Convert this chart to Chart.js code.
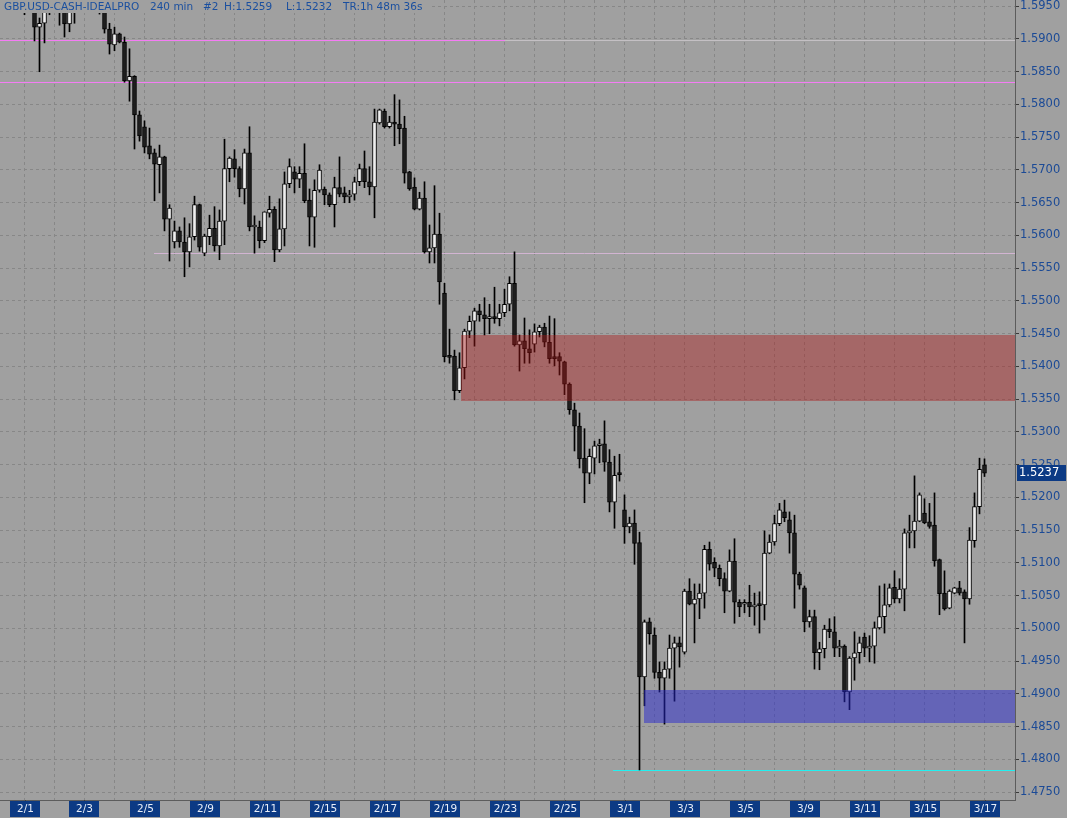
<!DOCTYPE html>
<html>
<head>
<meta charset="utf-8">
<style>
  html, body { margin: 0; padding: 0; background: #a0a0a0; }
  #wrap { width: 1067px; height: 818px; }
</style>
<script src="https://cdn.jsdelivr.net/npm/chart.js@4.4.1/dist/chart.umd.min.js"></script>
</head>
<body>
<div id="wrap"><canvas id="chart" width="1067" height="818"></canvas></div>
<script>
/* =========================
   DATA (GBP.USD 240 min bars)
========================= */
const opens = [
  1.5985, 1.5992, 1.5980, 1.5972, 1.5985, 1.5970, 1.5985, 1.5918, 1.5924, 1.5970,
  1.5975, 1.5982, 1.5968, 1.5923, 1.5962, 1.5980, 1.5990, 1.5978, 1.5985, 1.5972,
  1.5975, 1.5915, 1.5891, 1.5908, 1.5895, 1.5836, 1.5843, 1.5784, 1.5766, 1.5737,
  1.5726, 1.5708, 1.5720, 1.5625, 1.5590, 1.5607, 1.5590, 1.5575, 1.5598, 1.5647,
  1.5573, 1.5598, 1.5611, 1.5584, 1.5622, 1.5702, 1.5717, 1.5702, 1.5671, 1.5726,
  1.5613, 1.5613, 1.5592, 1.5634, 1.5640, 1.5578, 1.5610, 1.5679, 1.5697, 1.5686,
  1.5695, 1.5654, 1.5628, 1.5669, 1.5671, 1.5662, 1.5647, 1.5673, 1.5665, 1.5659,
  1.5663, 1.5682, 1.5702, 1.5682, 1.5674, 1.5772, 1.5790, 1.5766, 1.5773, 1.5770,
  1.5764, 1.5697, 1.5674, 1.5640, 1.5657, 1.5575, 1.5581, 1.5602, 1.5512, 1.5415,
  1.5416, 1.5363, 1.5398, 1.5454, 1.5469, 1.5485, 1.5479, 1.5473, 1.5476, 1.5473,
  1.5482, 1.5495, 1.5527, 1.5433, 1.5439, 1.5427, 1.5434, 1.5453, 1.5460, 1.5437,
  1.5415, 1.5415, 1.5407, 1.5373, 1.5334, 1.5309, 1.5260, 1.5237, 1.5260, 1.5279,
  1.5282, 1.5254, 1.5193, 1.5236, 1.5181, 1.5155, 1.5161, 1.5131, 1.4926, 1.5010,
  1.4990, 1.4933, 1.4924, 1.4938, 1.4970, 1.4978, 1.4964, 1.5057, 1.5037, 1.5045,
  1.5054, 1.5121, 1.5101, 1.5092, 1.5076, 1.5057, 1.5103, 1.5040, 1.5037, 1.5040,
  1.5033, 1.5036, 1.5036, 1.5115, 1.5132, 1.5160, 1.5178, 1.5166, 1.5146, 1.5083,
  1.5062, 1.5010, 1.5018, 1.4963, 1.4969, 1.4999, 1.4995, 1.4970, 1.4973, 1.4903,
  1.4955, 1.4963, 1.4987, 1.4970, 1.4973, 1.5001, 1.5018, 1.5036, 1.5063, 1.5045,
  1.5060, 1.5146, 1.5149, 1.5164, 1.5176, 1.5163, 1.5158, 1.5105, 1.5054, 1.5031,
  1.5054, 1.5062, 1.5056, 1.5045, 1.5134, 1.5186, 1.5250
];
const highs = [
  1.6005, 1.6010, 1.5995, 1.5990, 1.5998, 1.5985, 1.5998, 1.5932, 1.5985, 1.5990,
  1.5998, 1.5995, 1.5980, 1.5975, 1.5990, 1.6002, 1.6008, 1.5995, 1.5998, 1.5990,
  1.5988, 1.5924, 1.5918, 1.5909, 1.5903, 1.5885, 1.5844, 1.5790, 1.5775, 1.5764,
  1.5732, 1.5738, 1.5721, 1.5647, 1.5622, 1.5613, 1.5627, 1.5618, 1.5660, 1.5648,
  1.5602, 1.5631, 1.5644, 1.5639, 1.5747, 1.5720, 1.5731, 1.5705, 1.5732, 1.5766,
  1.5630, 1.5622, 1.5636, 1.5660, 1.5644, 1.5656, 1.5697, 1.5717, 1.5705, 1.5705,
  1.5740, 1.5671, 1.5685, 1.5708, 1.5674, 1.5665, 1.5689, 1.5720, 1.5674, 1.5669,
  1.5689, 1.5709, 1.5729, 1.5705, 1.5793, 1.5793, 1.5793, 1.5782, 1.5815, 1.5807,
  1.5782, 1.5698, 1.5688, 1.5666, 1.5682, 1.5616, 1.5676, 1.5634, 1.5527, 1.5457,
  1.5425, 1.5421, 1.5457, 1.5477, 1.5489, 1.5495, 1.5505, 1.5495, 1.5521, 1.5495,
  1.5518, 1.5537, 1.5575, 1.5448, 1.5474, 1.5456, 1.5465, 1.5463, 1.5466, 1.5477,
  1.5473, 1.5421, 1.5408, 1.5375, 1.5344, 1.5329, 1.5305, 1.5274, 1.5286, 1.5289,
  1.5317, 1.5273, 1.5263, 1.5266, 1.5204, 1.5170, 1.5181, 1.5147, 1.5013, 1.5016,
  1.5001, 1.4949, 1.4949, 1.4990, 1.4987, 1.4987, 1.5060, 1.5076, 1.5068, 1.5068,
  1.5127, 1.5132, 1.5108, 1.5097, 1.5085, 1.5120, 1.5137, 1.5044, 1.5044, 1.5066,
  1.5054, 1.5056, 1.5149, 1.5143, 1.5173, 1.5191, 1.5196, 1.5178, 1.5173, 1.5086,
  1.5065, 1.5028, 1.5028, 1.4979, 1.5005, 1.5015, 1.5018, 1.4982, 1.4975, 1.4957,
  1.4995, 1.4987, 1.4993, 1.4989, 1.5010, 1.5065, 1.5068, 1.5068, 1.5088, 1.5076,
  1.5152, 1.5173, 1.5233, 1.5207, 1.5198, 1.5191, 1.5207, 1.5106, 1.5088, 1.5059,
  1.5063, 1.5072, 1.5059, 1.5154, 1.5207, 1.5260, 1.5259
];
const lows = [
  1.5970, 1.5978, 1.5965, 1.5960, 1.5937, 1.5958, 1.5897, 1.5850, 1.5894, 1.5937,
  1.5962, 1.5921, 1.5903, 1.5911, 1.5924, 1.5965, 1.5972, 1.5962, 1.5966, 1.5938,
  1.5909, 1.5877, 1.5882, 1.5894, 1.5834, 1.5805, 1.5732, 1.5744, 1.5726, 1.5717,
  1.5653, 1.5665, 1.5607, 1.5561, 1.5581, 1.5582, 1.5537, 1.5552, 1.5593, 1.5576,
  1.5569, 1.5586, 1.5576, 1.5563, 1.5586, 1.5682, 1.5689, 1.5659, 1.5648, 1.5607,
  1.5573, 1.5581, 1.5589, 1.5628, 1.5560, 1.5575, 1.5584, 1.5673, 1.5665, 1.5673,
  1.5650, 1.5584, 1.5582, 1.5666, 1.5647, 1.5644, 1.5613, 1.5659, 1.5650, 1.5650,
  1.5654, 1.5676, 1.5673, 1.5662, 1.5627, 1.5770, 1.5764, 1.5764, 1.5737, 1.5740,
  1.5680, 1.5669, 1.5639, 1.5639, 1.5573, 1.5558, 1.5558, 1.5495, 1.5407, 1.5405,
  1.5349, 1.5360, 1.5381, 1.5444, 1.5431, 1.5469, 1.5448, 1.5450, 1.5466, 1.5462,
  1.5476, 1.5485, 1.5431, 1.5393, 1.5405, 1.5405, 1.5422, 1.5445, 1.5430, 1.5405,
  1.5401, 1.5387, 1.5357, 1.5327, 1.5271, 1.5245, 1.5192, 1.5221, 1.5236, 1.5253,
  1.5240, 1.5178, 1.5153, 1.5225, 1.5130, 1.5146, 1.5098, 1.4784, 1.4882, 1.4976,
  1.4924, 1.4903, 1.4854, 1.4924, 1.4889, 1.4941, 1.4961, 1.5036, 1.4978, 1.5015,
  1.5031, 1.5089, 1.5079, 1.5065, 1.5024, 1.5056, 1.5008, 1.5018, 1.5024, 1.5018,
  1.5005, 1.4993, 1.5013, 1.5114, 1.5127, 1.5157, 1.5163, 1.5115, 1.5031, 1.5060,
  1.4995, 1.5002, 1.4938, 1.4937, 1.4955, 1.4986, 1.4957, 1.4957, 1.4888, 1.4876,
  1.4921, 1.4947, 1.4957, 1.4949, 1.4947, 1.4999, 1.4993, 1.5033, 1.5039, 1.5039,
  1.5027, 1.5123, 1.5123, 1.5163, 1.5160, 1.5153, 1.5095, 1.5021, 1.5028, 1.5030,
  1.5053, 1.5051, 1.4978, 1.5037, 1.5124, 1.5175, 1.5232
];
const closes = [
  1.5992, 1.5980, 1.5972, 1.5985, 1.5970, 1.5978, 1.5918, 1.5924, 1.5970, 1.5975,
  1.5982, 1.5968, 1.5923, 1.5962, 1.5980, 1.5990, 1.5978, 1.5985, 1.5972, 1.5975,
  1.5915, 1.5892, 1.5908, 1.5895, 1.5836, 1.5843, 1.5784, 1.5752, 1.5735, 1.5724,
  1.5709, 1.5720, 1.5625, 1.5642, 1.5607, 1.5590, 1.5575, 1.5598, 1.5647, 1.5582,
  1.5599, 1.5611, 1.5584, 1.5622, 1.5702, 1.5718, 1.5702, 1.5671, 1.5726, 1.5613,
  1.5614, 1.5592, 1.5636, 1.5640, 1.5578, 1.5610, 1.5679, 1.5705, 1.5686, 1.5695,
  1.5653, 1.5628, 1.5669, 1.5700, 1.5662, 1.5647, 1.5673, 1.5663, 1.5659, 1.5660,
  1.5682, 1.5702, 1.5682, 1.5674, 1.5773, 1.5792, 1.5766, 1.5773, 1.5770, 1.5763,
  1.5695, 1.5671, 1.5640, 1.5657, 1.5575, 1.5581, 1.5602, 1.5529, 1.5415, 1.5414,
  1.5363, 1.5398, 1.5454, 1.5469, 1.5485, 1.5479, 1.5473, 1.5476, 1.5473, 1.5482,
  1.5495, 1.5527, 1.5433, 1.5439, 1.5427, 1.5421, 1.5453, 1.5460, 1.5437, 1.5412,
  1.5412, 1.5408, 1.5373, 1.5334, 1.5309, 1.5259, 1.5237, 1.5263, 1.5279, 1.5282,
  1.5254, 1.5193, 1.5234, 1.5235, 1.5155, 1.5161, 1.5130, 1.4926, 1.5010, 1.4992,
  1.4933, 1.4924, 1.4938, 1.4970, 1.4978, 1.4972, 1.5057, 1.5037, 1.5045, 1.5054,
  1.5121, 1.5098, 1.5092, 1.5076, 1.5057, 1.5103, 1.5040, 1.5033, 1.5040, 1.5033,
  1.5036, 1.5035, 1.5115, 1.5132, 1.5160, 1.5181, 1.5169, 1.5146, 1.5083, 1.5066,
  1.5010, 1.5018, 1.4963, 1.4969, 1.4999, 1.4995, 1.4970, 1.4973, 1.4903, 1.4955,
  1.4963, 1.4978, 1.4970, 1.4973, 1.5001, 1.5018, 1.5036, 1.5062, 1.5045, 1.5060,
  1.5146, 1.5149, 1.5164, 1.5204, 1.5161, 1.5156, 1.5103, 1.5053, 1.5030, 1.5057,
  1.5062, 1.5054, 1.5045, 1.5135, 1.5186, 1.5243, 1.5237
];

// date labels and the bar index they sit on
const dateLabels = ["2/1", "2/3", "2/5", "2/9", "2/11", "2/15", "2/17", "2/19", "2/23",
                    "2/25", "3/1", "3/3", "3/5", "3/9", "3/11", "3/15", "3/17"];
const dateBars = [4, 16, 28, 40, 52, 64, 76, 88, 100, 112, 124, 136, 148, 160, 172, 184, 196];
// vertical grid every day
const gridBars = [4, 10, 16, 22, 28, 34, 40, 46, 52, 58, 64, 70, 76, 82, 88, 94, 100, 106,
                  112, 118, 124, 130, 136, 142, 148, 154, 160, 166, 172, 178, 184, 190, 196];
const priceTicks = [1.4750, 1.4800, 1.4850, 1.4900, 1.4950, 1.5000, 1.5050, 1.5100, 1.5150,
                    1.5200, 1.5250, 1.5300, 1.5350, 1.5400, 1.5450, 1.5500, 1.5550, 1.5600,
                    1.5650, 1.5700, 1.5750, 1.5800, 1.5850, 1.5900, 1.5950];

// horizontal levels (price, first bar, last bar)
const levelPrices = [1.5898, 1.5898, 1.5835, 1.5573, 1.4784];
const levelFrom = [-0.9, 100.1, -0.9, 29.9, 121.7];
const levelTo = [100.1, 202.1, 202.1, 202.1, 202.1];

// supply / demand zones
const zoneHigh = [1.5448, 1.4906];
const zoneLow = [1.5347, 1.4856];
const zoneFrom = [91.3, 127.9];

const TITLE = ["GBP.USD-CASH-IDEALPRO", "240 min", "#2", "H:1.5259", "L:1.5232", "TR:1h 48m 36s"];

/* =========================
   STYLE
========================= */
const BG = "#a0a0a0";
const GRID = "#878787";
const AXIS_TEXT = "#1b4a96";
const LABEL_BOX = "#0c3a84";
const levelColors = ["#f47cf4", "#c4c0c4", "#f47cf4", "#d2b4d2", "#22f0f0"];
const zoneColors = ["rgba(172, 24, 24, 0.42)", "rgba(40, 40, 205, 0.5)"];
const FONT = "DejaVu Sans";

Chart.defaults.font.family = FONT;

const upBar = i => closes[i] >= opens[i];

const bgPlugin = {
  id: "bg",
  beforeDraw(chart) {
    const c = chart.ctx;
    c.save();
    c.fillStyle = BG;
    c.fillRect(0, 0, chart.width, chart.height);
    c.restore();
  }
};

const levelsPlugin = {
  id: "levels",
  beforeDatasetsDraw(chart) {
    const { ctx: c, scales: { x, y } } = chart;
    c.save();
    c.lineWidth = 1;
    levelPrices.forEach((p, k) => {
      const py = Math.round(y.getPixelForValue(p)) + 0.5;
      c.strokeStyle = levelColors[k];
      c.beginPath();
      c.moveTo(x.getPixelForValue(levelFrom[k]), py);
      c.lineTo(x.getPixelForValue(levelTo[k]), py);
      c.stroke();
    });
    c.restore();
  },
  afterDatasetsDraw(chart) {
    const { ctx: c, scales: { x, y }, chartArea } = chart;
    c.save();
    zoneHigh.forEach((hi, k) => {
      const x0 = Math.round(x.getPixelForValue(zoneFrom[k]));
      const y0 = Math.round(y.getPixelForValue(hi));
      const y1 = Math.round(y.getPixelForValue(zoneLow[k]));
      c.fillStyle = zoneColors[k];
      c.fillRect(x0, y0, chartArea.right - x0, y1 - y0);
    });
    c.restore();
  }
};

const labelsPlugin = {
  id: "labels",
  afterDraw(chart) {
    const { ctx: c, scales: { x, y }, chartArea } = chart;
    c.save();

    // title strip
    c.fillStyle = BG;
    c.fillRect(0, 0, 432, 13);
    c.fillStyle = "#1a4f9f";
    c.font = "10.5px " + FONT;
    c.textBaseline = "middle";
    const tx = [4, 150, 203, 224, 286, 343];
    TITLE.forEach((t, k) => c.fillText(t, tx[k], 7));

    // date boxes
    c.font = "10.5px " + FONT;
    c.textAlign = "center";
    dateLabels.forEach((lab, k) => {
      const px = Math.round(x.getPixelForValue(dateBars[k]));
      c.fillStyle = "#404040";
      c.fillRect(px, chartArea.bottom, 1, 2);
      c.fillStyle = LABEL_BOX;
      c.fillRect(px - 15, chartArea.bottom + 1, 30, 16);
      c.fillStyle = "#e8eef8";
      c.fillText(lab, px + 0.5, chartArea.bottom + 9);
    });

    // last price tag
    const last = closes.length - 1;
    const py = Math.round(y.getPixelForValue(closes[last]));
    c.fillStyle = LABEL_BOX;
    c.fillRect(chartArea.right + 2, py - 8, 49, 16);
    c.fillStyle = "#ffffff";
    c.font = "11.5px " + FONT;
    c.textAlign = "left";
    c.fillText(closes[last].toFixed(4), chartArea.right + 4, py + 0.5);
    c.restore();
  }
};

new Chart(document.getElementById("chart"), {
  type: "bar",
  data: {
    datasets: [
      {
        label: "body",
        data: opens.map((o, i) => ({ x: i, y: [o, closes[i]] })),
        backgroundColor: ctx => upBar(ctx.dataIndex) ? "#eeeeee" : "#1e1e1e",
        borderColor: "#000000",
        borderWidth: 1,
        borderSkipped: false,
        barThickness: 4,
        minBarLength: 2,
        grouped: false,
        clip: 0,
        order: 1
      },
      {
        label: "wick",
        data: lows.map((l, i) => ({ x: i, y: [l, highs[i]] })),
        backgroundColor: "#000000",
        borderWidth: 0,
        barThickness: 1,
        grouped: false,
        clip: 0,
        order: 2
      }
    ]
  },
  options: {
    responsive: false,
    animation: false,
    devicePixelRatio: 1,
    layout: { padding: 0 },
    plugins: { legend: { display: false }, tooltip: { enabled: false } },
    scales: {
      x: {
        type: "linear",
        min: -0.9,
        max: 202.1,
        offset: false,
        afterBuildTicks: s => { s.ticks = gridBars.map(v => ({ value: v })); },
        afterFit: s => { s.height = 18; s.paddingLeft = 0; s.paddingRight = 0; },
        ticks: { display: false },
        grid: { color: GRID, drawTicks: false, offset: false },
        border: { display: true, color: "#5c5c5c", dash: [3, 3] }
      },
      y: {
        position: "right",
        min: 1.473814,
        max: 1.59595,
        afterBuildTicks: s => { s.ticks = priceTicks.map(v => ({ value: v })); },
        afterFit: s => { s.width = 52; s.paddingTop = 0; s.paddingBottom = 0; },
        ticks: {
          callback: v => v.toFixed(4),
          color: AXIS_TEXT,
          font: { size: 11.5 },
          padding: 1
        },
        grid: { color: GRID, tickLength: 4, tickColor: "#3a3a3a", tickBorderDash: [] },
        border: { display: true, color: "#5c5c5c", dash: [3, 3] }
      }
    }
  },
  plugins: [bgPlugin, levelsPlugin, labelsPlugin]
});
</script>
</body>
</html>
